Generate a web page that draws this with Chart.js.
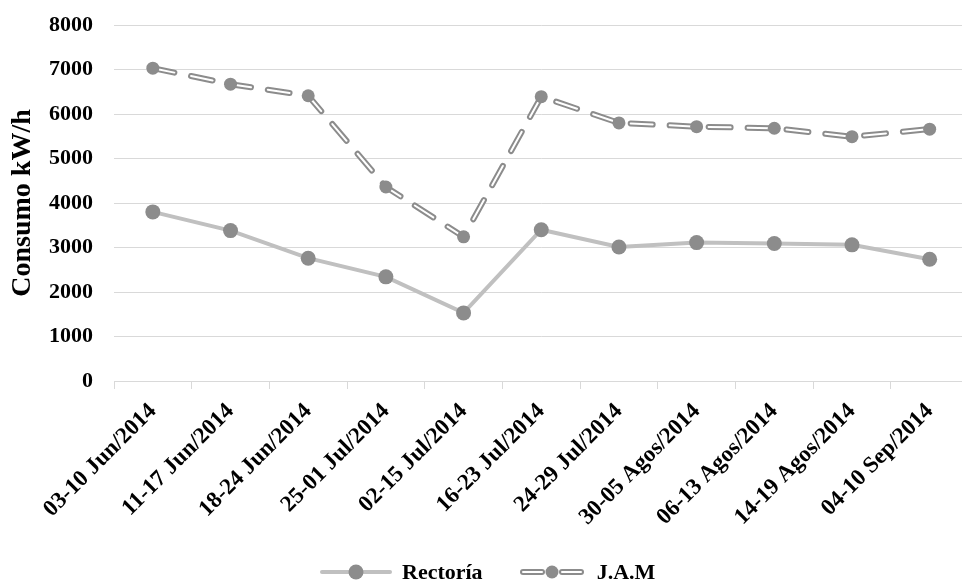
<!DOCTYPE html>
<html lang="es">
<head>
  <meta charset="UTF-8">
  <title>Consumo kW/h</title>
  <script src="https://cdn.jsdelivr.net/npm/chart.js"></script>
  <style>
    html, body {margin: 0; padding: 0; background: #ffffff; overflow: hidden;}
    #wrap {position: relative; width: 976px; height: 580px;}
    #legend {position: absolute; top: 561px; left: 320px; display: flex; align-items: center; height: 22px;
      font-family: 'Liberation Serif', serif; font-weight: bold; font-size: 22px; line-height: 22px; color: #000;}
    #legend canvas {display: block;}
    #legend span {margin-left: 10px; margin-right: 36px; white-space: nowrap;}
    #legend span:last-child {margin-left: 12px;}
  </style>
</head>
<body>
  <div id="wrap">
    <canvas id="lineChart" width="976" height="580"></canvas>
    <div id="legend"></div>
  </div>
  <script>
    const semanas = ['03-10 Jun/2014', '11-17 Jun/2014', '18-24 Jun/2014', '25-01 Jul/2014', '02-15 Jul/2014',
      '16-23 Jul/2014', '24-29 Jul/2014', '30-05 Agos/2014', '06-13 Agos/2014', '14-19 Agos/2014', '04-10 Sep/2014'];
    const rectoria = [3800, 3380, 2760, 2340, 1530, 3400, 3010, 3110, 3090, 3060, 2735];
    const jam = [7030, 6670, 6410, 4360, 3240, 6390, 5800, 5715, 5680, 5490, 5660];
    const yTicks = [0, 1000, 2000, 3000, 4000, 5000, 6000, 7000, 8000];

    const font = 'Liberation Serif';
    const gris = '#8c8c8c';
    const grisClaro = '#c0c0c0';
    const dash = [22, 17];

    // legend symbols: a short line with a marker in the middle
    function legendIcon(type) {
      const c = document.createElement('canvas');
      const w = type === 'solid' ? 72 : 66;
      c.width = w; c.height = 18;
      const g = c.getContext('2d');
      g.lineCap = 'round';
      if (type === 'solid') {
        g.strokeStyle = grisClaro; g.lineWidth = 4;
        g.beginPath(); g.moveTo(2, 9); g.lineTo(w - 2, 9); g.stroke();
      } else {
        [[4, 23], [43, 62]].forEach(([a, b]) => {
          g.strokeStyle = gris; g.lineWidth = 6;
          g.beginPath(); g.moveTo(a, 9); g.lineTo(b, 9); g.stroke();
          g.strokeStyle = '#ffffff'; g.lineWidth = 2;
          g.beginPath(); g.moveTo(a, 9); g.lineTo(b, 9); g.stroke();
        });
      }
      g.fillStyle = gris;
      g.beginPath(); g.arc(w / 2, 9, type === 'solid' ? 7.5 : 6.5, 0, Math.PI * 2); g.fill();
      return c;
    }
    const legend = document.getElementById('legend');
    [['solid', 'Rectoría'], ['dash', 'J.A.M']].forEach(([t, txt]) => {
      legend.appendChild(legendIcon(t));
      const s = document.createElement('span');
      s.textContent = txt;
      legend.appendChild(s);
    });

    new Chart(document.getElementById('lineChart').getContext('2d'), {
      type: 'line',
      data: {
        labels: semanas,
        datasets: [
          {label: 'Rectoría', data: rectoria, borderColor: grisClaro, borderWidth: 4, pointRadius: 7.5,
            pointBackgroundColor: gris, pointBorderWidth: 0, tension: 0, order: 3},
          {label: 'J.A.M', data: jam, borderColor: gris, borderWidth: 6, borderDash: dash, borderCapStyle: 'round',
            pointRadius: 0, tension: 0, order: 2},
          {label: 'J.A.M (interior)', data: jam, borderColor: '#ffffff', borderWidth: 2, borderDash: dash, borderCapStyle: 'round',
            pointRadius: 6.5, pointBackgroundColor: gris, pointBorderWidth: 0, tension: 0, order: 1}
        ]
      },
      options: {
        responsive: false,
        animation: false,
        layout: {padding: {top: 0, left: 0, right: 0, bottom: 49}},
        plugins: {
          tooltip: {enabled: false},
          legend: {display: false}
        },
        scales: {
          x: {
            offset: true,
            grid: {offset: true, drawOnChartArea: false, color: '#d9d9d9', tickLength: 8},
            border: {color: '#d9d9d9'},
            ticks: {color: '#000000', maxRotation: 45, minRotation: 45, padding: 9,
              font: {family: font, size: 23, weight: 'bold'}},
            afterFit: s => { s.height = 150; }
          },
          y: {
            min: 0, max: 8000,
            afterBuildTicks: s => { s.ticks = yTicks.map(v => ({value: v})); },
            grid: {color: '#d9d9d9', drawTicks: false},
            border: {display: false},
            ticks: {color: '#000000', padding: 21, callback: v => String(v),
              font: {family: font, size: 22, weight: 'bold'}},
            title: {display: true, text: 'Consumo kW/h', color: '#000000', padding: {top: 6, bottom: 0},
              font: {family: font, size: 28, weight: 'bold'}},
            afterFit: s => { s.width = 114; s.paddingTop = 25; s.paddingBottom = 0; }
          }
        }
      }
    });
  </script>
</body>
</html>
